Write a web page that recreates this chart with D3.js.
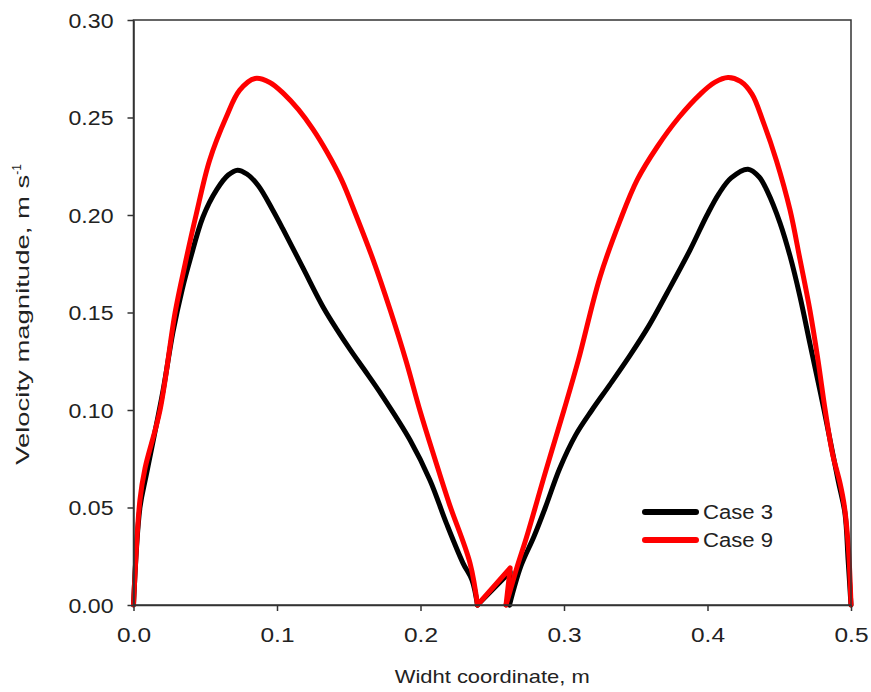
<!DOCTYPE html>
<html>
<head>
<meta charset="utf-8">
<script src="https://cdn.jsdelivr.net/npm/d3@7"></script>
<style>
  html, body { margin: 0; padding: 0; background: #fff; }
  text { font-family: "Liberation Sans", Arial, sans-serif; fill: #222; }
</style>
</head>
<body>
<svg id="chart" width="871" height="692"></svg>
<script>
// ---- data ----
const case3X = [0, 0.0045, 0.009, 0.0206, 0.0275, 0.034, 0.0394, 0.0484, 0.058, 0.066, 0.0725, 0.079, 0.087, 0.097, 0.104, 0.118, 0.132, 0.142, 0.151, 0.161, 0.1718, 0.1927, 0.2066, 0.218, 0.2296, 0.2359, 0.2397, 0.2625, 0.262, 0.27, 0.279, 0.287, 0.297, 0.308, 0.3195, 0.332, 0.346, 0.359, 0.3718, 0.3878, 0.3997, 0.408, 0.4165, 0.4282, 0.436, 0.4418, 0.4505, 0.4575, 0.4645, 0.4714, 0.4812, 0.491, 0.4958, 0.498, 0.5];
const case3Y = [0, 0.05, 0.067, 0.11, 0.14, 0.162, 0.177, 0.199, 0.213, 0.2205, 0.223, 0.221, 0.215, 0.2026, 0.193, 0.173, 0.153, 0.141, 0.131, 0.1205, 0.109, 0.0846, 0.064, 0.042, 0.0215, 0.0128, 0, 0.017, 0, 0.02, 0.035, 0.05, 0.07, 0.087, 0.1, 0.113, 0.128, 0.143, 0.16, 0.182, 0.2, 0.211, 0.219, 0.2235, 0.2195, 0.212, 0.196, 0.179, 0.158, 0.134, 0.1, 0.064, 0.047, 0.023, 0];
const case9X = [0, 0.0045, 0.008, 0.0185, 0.029, 0.036, 0.0436, 0.053, 0.0645, 0.074, 0.0847, 0.095, 0.105, 0.115, 0.125, 0.135, 0.145, 0.155, 0.167, 0.179, 0.19, 0.1997, 0.21, 0.22, 0.2345, 0.2397, 0.2625, 0.2596, 0.2675, 0.274, 0.287, 0.3, 0.31, 0.325, 0.339, 0.351, 0.365, 0.38, 0.395, 0.405, 0.4143, 0.423, 0.431, 0.4387, 0.448, 0.4575, 0.4645, 0.4714, 0.477, 0.482, 0.487, 0.4925, 0.4955, 0.4983, 0.5];
const case9Y = [0, 0.054, 0.07, 0.1, 0.15, 0.175, 0.2, 0.228, 0.25, 0.264, 0.27, 0.268, 0.262, 0.254, 0.244, 0.232, 0.218, 0.2, 0.177, 0.151, 0.125, 0.0995, 0.075, 0.052, 0.0215, 0, 0.019, 0, 0.02, 0.035, 0.068, 0.1, 0.1256, 0.168, 0.197, 0.218, 0.235, 0.25, 0.262, 0.268, 0.2705, 0.2685, 0.262, 0.248, 0.228, 0.2026, 0.177, 0.151, 0.1256, 0.1, 0.078, 0.062, 0.05, 0.028, 0];
const seriesNames = ["Case 3", "Case 9"];
const seriesColors = ["#000000", "#ff0000"];
const xTicks = [0.0, 0.1, 0.2, 0.3, 0.4, 0.5];
const yTicks = [0.00, 0.05, 0.10, 0.15, 0.20, 0.25, 0.30];
const xLabel = "Widht coordinate, m";
const yLabel = "Velocity magnitude, m s";

// ---- layout ----
const svg = d3.select("#chart");
const L = 133.5, R = 851, T = 20, B = 605;
const x = d3.scaleLinear().domain([0, 0.5]).range([L, R]);
const y = d3.scaleLinear().domain([0, 0.30]).range([B, T]);

const series = [
  { name: seriesNames[0], color: seriesColors[0], pts: case3X.map((v, i) => [v, case3Y[i]]) },
  { name: seriesNames[1], color: seriesColors[1], pts: case9X.map((v, i) => [v, case9Y[i]]) }
];

const smooth = d3.line().x(d => x(d[0])).y(d => y(d[1])).curve(d3.curveCatmullRom.alpha(0.5));
const lin = d3.line().x(d => x(d[0])).y(d => y(d[1]));

series.forEach(s => {
  const zeros = s.pts.map((p, i) => p[1] === 0 ? i : -1).filter(i => i >= 0);
  const a = zeros[1], b = zeros[2];
  const parts = [
    { pts: s.pts.slice(0, a + 1), gen: smooth },
    { pts: s.pts.slice(a, b + 1), gen: lin },
    { pts: s.pts.slice(b), gen: smooth }
  ];
  parts.forEach(p => {
    svg.append("path")
      .attr("d", p.gen(p.pts))
      .attr("fill", "none")
      .attr("stroke", s.color)
      .attr("stroke-width", 5)
      .attr("stroke-linejoin", "round")
      .attr("stroke-linecap", "round");
  });
});

// frame
svg.append("rect").attr("x", L).attr("y", T).attr("width", R - L).attr("height", B - T)
  .attr("fill", "none").attr("stroke", "#333").attr("stroke-width", 1.5);

// axes
const xAxis = d3.axisBottom(x).tickValues(xTicks).tickFormat(d3.format(".1f")).tickSize(6).tickSizeOuter(0);
const gx = svg.append("g").attr("transform", `translate(0,${B})`).call(xAxis);
const yAxis = d3.axisLeft(y).tickValues(yTicks).tickFormat(d3.format(".2f")).tickSize(6).tickSizeOuter(0);
const gy = svg.append("g").attr("transform", `translate(${L},0)`).call(yAxis);
[gx, gy].forEach(g => {
  g.select(".domain").attr("stroke", "#333").attr("stroke-width", 1.5);
  g.selectAll(".tick line").attr("stroke", "#333").attr("stroke-width", 1.5);
  g.selectAll(".tick text").attr("font-size", 20).attr("fill", "#222")
    .attr("font-family", "Liberation Sans, Arial, sans-serif");
});
gx.selectAll(".tick text").attr("dy", null).attr("y", 37).attr("textLength", 34).attr("lengthAdjust", "spacingAndGlyphs");
gy.selectAll(".tick text").attr("x", -20).attr("dy", "0.35em").attr("textLength", 45).attr("lengthAdjust", "spacingAndGlyphs");

// axis titles
svg.append("text").attr("x", (L + R) / 2).attr("y", 683).attr("text-anchor", "middle")
  .attr("font-size", 19).attr("textLength", 195).attr("lengthAdjust", "spacingAndGlyphs").text(xLabel);

const yt = svg.append("text").attr("transform", `translate(29,${(T + B) / 2 + 2}) rotate(-90)`)
  .attr("text-anchor", "middle").attr("font-size", 19);
yt.append("tspan").attr("textLength", 290).attr("lengthAdjust", "spacingAndGlyphs").text(yLabel);
yt.append("tspan").attr("font-size", 12).attr("dy", -8).text("-1");

// legend
const lg = svg.append("g");
series.forEach((s, i) => {
  const ly = 512 + i * 28;
  lg.append("line").attr("x1", 645).attr("x2", 696).attr("y1", ly).attr("y2", ly)
    .attr("stroke", s.color).attr("stroke-width", 6).attr("stroke-linecap", "round");
  lg.append("text").attr("x", 703).attr("y", ly + 7).attr("font-size", 20)
    .attr("textLength", 70).attr("lengthAdjust", "spacingAndGlyphs").text(s.name);
});
</script>
</body>
</html>
